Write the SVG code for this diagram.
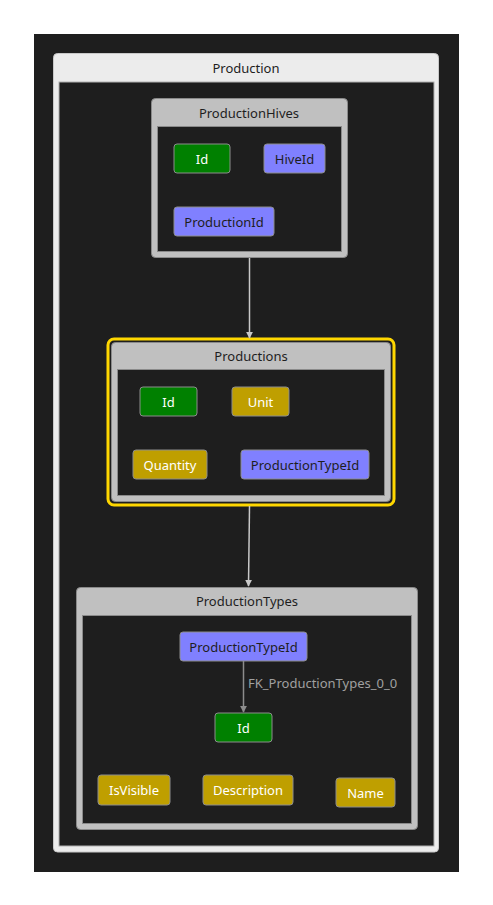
<svg xmlns="http://www.w3.org/2000/svg" width="493" height="905" viewBox="0 0 493 905">
<defs>
<style>
text{font-family:"Noto Sans","Open Sans","DejaVu Sans",sans-serif;font-size:13px;text-anchor:middle;dominant-baseline:central}
.gbox{fill:#c0c0c0;stroke:#8a8a8a;stroke-width:1}
.inner{fill:#1e1e1e;stroke:#8a8a8a;stroke-width:1}
.title{fill:#1e1e1e;font-size:13px}
.node{stroke:#8c8c8c;stroke-width:1}
.pk{fill:#008000}
.fk{fill:#8080ff}
.at{fill:#bf9f00}
.lt{fill:#ffffff}
.dt{fill:#1e1e1e}
.edge{stroke:#c8c8c8;stroke-width:1.5;fill:none}
.fkedge{stroke:#8c8c8c;stroke-width:1.5;fill:none}
</style>
<marker id="ah" viewBox="0 0 10 10" refX="9" refY="5" markerWidth="7" markerHeight="7" markerUnits="userSpaceOnUse" orient="auto"><path d="M0,0L10,5L0,10z" fill="#c8c8c8"/></marker>
<marker id="ah2" viewBox="0 0 10 10" refX="9" refY="5" markerWidth="7" markerHeight="7" markerUnits="userSpaceOnUse" orient="auto"><path d="M0,0L10,5L0,10z" fill="#8c8c8c"/></marker>
</defs>
<rect x="34" y="34" width="425" height="838" fill="#1e1e1e"/>
<g id="Production">
<rect x="53.5" y="53.5" width="385" height="798.5" rx="4" fill="#ececec" stroke="#c8c8c8"/>
<rect x="59" y="82" width="375" height="764" fill="#1e1e1e" stroke="#b0b0b0"/>
<text x="246" y="68" class="title">Production</text>
</g>
<g id="ProductionHives">
<rect x="151.5" y="98.5" width="196" height="159" rx="4" class="gbox"/>
<rect x="157.5" y="126.5" width="184" height="125" class="inner"/>
<text x="249" y="113" class="title">ProductionHives</text>
<g id="ProductionHives.Id"><rect x="174" y="144" width="56" height="29" rx="3" class="node pk"/><text x="202" y="158.5" class="lt">Id</text></g>
<g id="ProductionHives.HiveId"><rect x="264" y="144" width="61" height="29" rx="3" class="node fk"/><text x="294.5" y="158.5" class="dt">HiveId</text></g>
<g id="ProductionHives.ProductionId"><rect x="174" y="207" width="100" height="29" rx="3" class="node fk"/><text x="224" y="221.5" class="dt">ProductionId</text></g>
</g>
<g id="Productions">
<rect x="108" y="339" width="286" height="166" rx="6" fill="none" stroke="#ffd700" stroke-width="3"/>
<rect x="111.5" y="342.5" width="279" height="159" rx="4" class="gbox"/>
<rect x="117.5" y="369.5" width="267" height="126" class="inner"/>
<text x="251" y="356" class="title">Productions</text>
<g id="Productions.Id"><rect x="140" y="387" width="57" height="29" rx="3" class="node pk"/><text x="168.5" y="401.5" class="lt">Id</text></g>
<g id="Productions.Unit"><rect x="232" y="387" width="57" height="29" rx="3" class="node at"/><text x="260.5" y="401.5" class="lt">Unit</text></g>
<g id="Productions.Quantity"><rect x="133" y="450" width="74" height="29" rx="3" class="node at"/><text x="170" y="464.5" class="lt">Quantity</text></g>
<g id="Productions.ProductionTypeId"><rect x="241" y="450" width="128" height="29" rx="3" class="node fk"/><text x="305" y="464.5" class="dt">ProductionTypeId</text></g>
</g>
<g id="ProductionTypes">
<rect x="76.5" y="587.5" width="341" height="242" rx="4" class="gbox"/>
<rect x="82.5" y="615.5" width="329" height="208" class="inner"/>
<text x="247" y="601" class="title">ProductionTypes</text>
<g id="ProductionTypes.ProductionTypeId"><rect x="180" y="632" width="127" height="29" rx="3" class="node fk"/><text x="243.5" y="646.5" class="dt">ProductionTypeId</text></g>
<g id="ProductionTypes.Id"><rect x="215" y="713" width="57" height="29" rx="3" class="node pk"/><text x="243.5" y="727.5" class="lt">Id</text></g>
<g id="ProductionTypes.IsVisible"><rect x="98" y="775" width="72" height="30" rx="3" class="node at"/><text x="134" y="790" class="lt">IsVisible</text></g>
<g id="ProductionTypes.Description"><rect x="203" y="775" width="90" height="30" rx="3" class="node at"/><text x="248" y="790" class="lt">Description</text></g>
<g id="ProductionTypes.Name"><rect x="336" y="778" width="59" height="29" rx="3" class="node at"/><text x="365.5" y="792.5" class="lt">Name</text></g>
</g>
<g id="connectors">
<path d="M249.5,258 L249.5,338" class="edge" marker-end="url(#ah)"/>
<path d="M249.5,506 L248.5,586" class="edge" marker-end="url(#ah)"/>
<path d="M243.5,661 L243.5,712" class="fkedge" marker-end="url(#ah2)"/>
<text x="248" y="683" style="text-anchor:start;fill:#a0a0a0;font-size:13px">FK_ProductionTypes_0_0</text>
</g>
</svg>
